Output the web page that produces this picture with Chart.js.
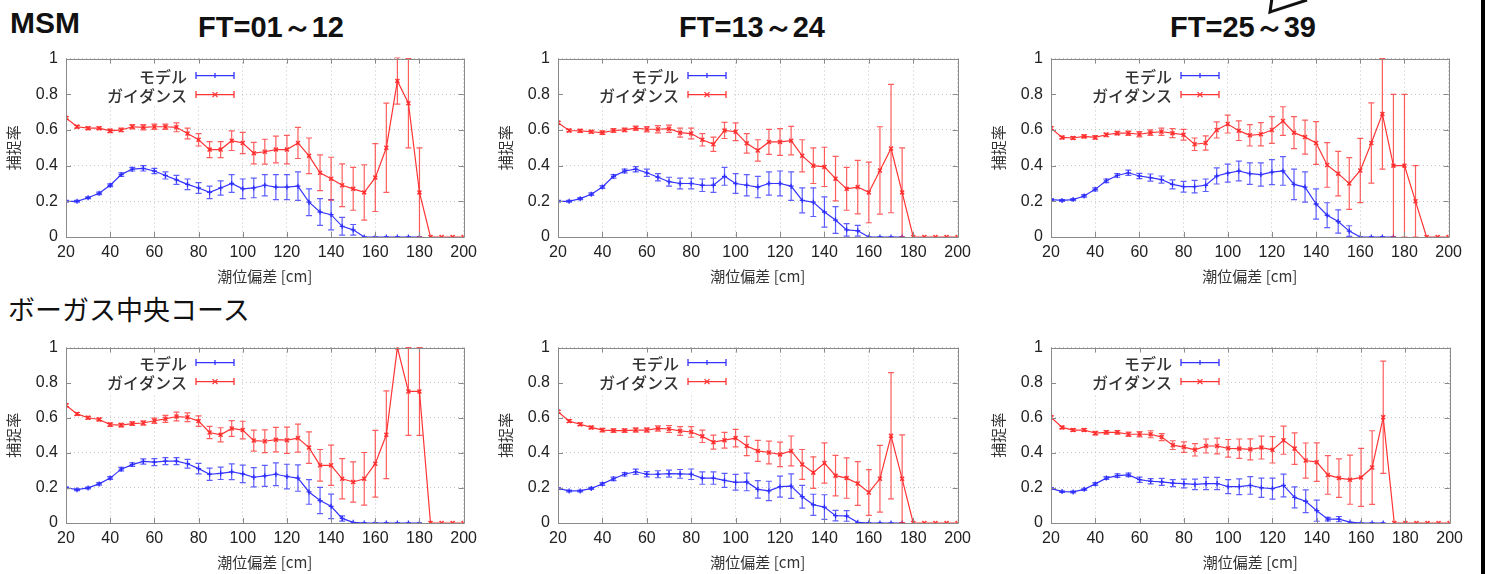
<!DOCTYPE html>
<html>
<head>
<meta charset="utf-8">
<script src="https://cdn.jsdelivr.net/npm/chart.js@4.4.1/dist/chart.umd.min.js"></script>
<style>
  body { margin: 0; width: 1487px; height: 574px; overflow: hidden; background: #fff; position: relative; }
  .head { position: absolute; color: #111; white-space: nowrap; line-height: 1; }
  .bold { font-family: "Liberation Sans", Arial, sans-serif; font-weight: bold; }
  .ft { font-size: 29px; transform: translateX(-50%); }
  .jp { font-family: "Noto Sans CJK JP", sans-serif; font-size: 27px; }
  #edge { position: absolute; left: 1481px; top: 0; width: 4px; height: 574px; background: #000; }
  #tail { position: absolute; left: 0; top: 0; }
</style>
</head>
<body>
<div class="head bold" style="left:10px;top:8px;font-size:30px">MSM</div>
<div class="head bold ft" style="left:271px;top:13px">FT=01～12</div>
<div class="head bold ft" style="left:752px;top:13px">FT=13～24</div>
<div class="head bold ft" style="left:1243px;top:13px">FT=25～39</div>
<div class="head jp" style="left:8px;top:295px">ボーガス中央コース</div>
<div id="edge"></div>
<svg id="tail" width="1487" height="20"><polyline points="1272,-2 1270,12 1307,0" fill="none" stroke="#111" stroke-width="3"/></svg>

<script>
// surge deviation [cm] at each point
var surge = [20, 25, 30, 35, 40, 45, 50, 55, 60, 65, 70, 75, 80, 85, 90, 95, 100, 105, 110, 115,
             120, 125, 130, 135, 140, 145, 150, 155, 160, 165, 170, 175, 180, 185, 190, 195, 200];
var xTicks = [20, 40, 60, 80, 100, 120, 140, 160, 180, 200];
var yTicks = [0, 0.2, 0.4, 0.6, 0.8, 1];
var seriesNames = ['モデル', 'ガイダンス'];

// MSM FT=01~12
var msm1Model = [.20,.20,.22,.245,.29,.35,.38,.385,.37,.345,.32,.295,.275,.25,.275,.30,.27,.275,.29,.28,
  .28,.285,.195,.14,.125,.06,.04,0,0,0,0,0,0,null,null,null,null];
var msm1ModelErr = [.005,.005,.005,.007,.008,.01,.01,.015,.015,.02,.025,.03,.03,.035,.04,.05,.055,.055,.06,.07,
  .07,.08,.075,.075,.085,.05,.03,0,0,0,0,0,0,0,0,0,0];
var msm1Guide = [.667,.618,.61,.61,.595,.60,.618,.615,.618,.618,.615,.58,.545,.49,.49,.54,.527,.47,.478,.49,
  .49,.527,.455,.36,.327,.29,.27,.25,.333,.50,.875,.75,.25,0,0,0,0];
var msm1GuideErr = [.008,.008,.008,.008,.01,.01,.012,.015,.015,.015,.025,.03,.035,.045,.045,.055,.06,.06,.07,.075,
  .08,.087,.1,.1,.12,.12,.12,.155,.19,.25,.13,.25,.25,0,0,0,0];

// MSM FT=13~24
var msm2Model = [.20,.20,.215,.24,.28,.34,.37,.38,.36,.335,.31,.30,.30,.29,.29,.34,.30,.29,.28,.30,
  .30,.285,.205,.195,.14,.095,.04,.035,0,0,0,0,null,null,null,null,null];
var msm2ModelErr = [.005,.005,.006,.007,.008,.01,.01,.015,.02,.02,.025,.03,.03,.035,.04,.05,.055,.06,.06,.065,
  .07,.08,.07,.08,.085,.075,.035,.03,0,0,0,0,0,0,0,0,0];
var msm2Guide = [.64,.597,.595,.59,.585,.597,.60,.61,.604,.604,.607,.585,.58,.545,.52,.597,.59,.525,.485,.533,
  .533,.54,.455,.40,.393,.327,.27,.28,.25,.373,.496,.25,0,0,0,0,0];
var msm2GuideErr = [.008,.008,.008,.008,.01,.01,.01,.012,.015,.02,.02,.025,.03,.035,.04,.045,.05,.055,.06,.07,
  .075,.08,.09,.1,.11,.125,.12,.15,.17,.245,.36,.25,0,0,0,0,0];

// MSM FT=25~39
var msm3Model = [.21,.205,.21,.23,.267,.315,.345,.36,.342,.333,.322,.295,.282,.282,.29,.342,.358,.37,.355,.35,
  .364,.37,.295,.28,.185,.122,.087,.033,0,0,0,0,null,null,null,null,null];
var msm3ModelErr = [.005,.005,.005,.007,.008,.01,.01,.015,.015,.02,.02,.025,.03,.035,.035,.045,.05,.055,.06,.065,
  .07,.08,.085,.085,.085,.07,.065,.03,0,0,0,0,0,0,0,0,0];
var msm3Guide = [.61,.558,.555,.564,.558,.573,.582,.582,.576,.585,.59,.582,.573,.52,.527,.60,.633,.596,.57,.576,
  .60,.65,.585,.56,.527,.404,.355,.30,.373,.527,.69,.40,.40,.20,0,0,0];
var msm3GuideErr = [.008,.008,.008,.008,.01,.01,.01,.012,.015,.015,.02,.025,.03,.035,.04,.045,.05,.055,.06,.065,
  .075,.08,.09,.095,.12,.125,.125,.145,.18,.225,.31,.40,.40,.20,0,0,0];

// Bogus central course FT=01~12
var bog1Model = [.201,.19,.20,.223,.256,.307,.333,.351,.347,.353,.353,.338,.31,.278,.283,.292,.28,.261,.269,.278,
  .265,.256,.177,.128,.095,.026,.004,0,0,0,0,0,0,null,null,null,null];
var bog1ModelErr = [.005,.005,.005,.007,.008,.01,.01,.015,.02,.02,.02,.025,.03,.035,.035,.045,.05,.055,.06,.065,
  .07,.075,.07,.075,.07,.015,0,0,0,0,0,0,0,0,0,0,0];
var bog1Guide = [.671,.622,.60,.59,.561,.558,.567,.57,.583,.594,.607,.603,.581,.516,.503,.539,.53,.47,.466,.475,
  .472,.484,.43,.329,.329,.252,.234,.252,.338,.503,1.0,.75,.75,0,0,0,0];
var bog1GuideErr = [.008,.008,.008,.008,.01,.01,.01,.012,.015,.02,.025,.025,.03,.035,.04,.045,.05,.06,.065,.07,
  .075,.08,.09,.09,.115,.115,.115,.15,.19,.25,0,.25,.25,0,0,0,0];

// Bogus central course FT=13~24
var bog2Model = [.197,.183,.183,.197,.223,.252,.278,.292,.278,.278,.282,.28,.278,.256,.256,.243,.232,.234,.192,.183,
  .207,.21,.15,.104,.091,.042,.04,.004,0,0,0,0,null,null,null,null,null];
var bog2ModelErr = [.005,.005,.005,.006,.008,.01,.01,.015,.015,.02,.02,.025,.03,.035,.035,.04,.045,.05,.05,.055,
  .06,.07,.065,.06,.07,.03,.03,0,0,0,0,0,0,0,0,0,0];
var bog2Guide = [.634,.581,.563,.545,.53,.527,.527,.53,.53,.539,.536,.525,.519,.494,.461,.472,.484,.439,.411,.402,
  .391,.411,.334,.287,.342,.27,.256,.225,.174,.252,.497,.252,0,0,0,0,0];
var bog2GuideErr = [.008,.008,.008,.008,.01,.01,.01,.012,.012,.015,.02,.025,.03,.035,.04,.045,.05,.055,.06,.065,
  .07,.085,.085,.09,.115,.115,.115,.125,.13,.19,.36,.25,0,0,0,0,0];

// Bogus central course FT=25~39
var bog3Model = [.197,.179,.177,.192,.223,.256,.27,.274,.247,.238,.234,.227,.225,.22,.225,.225,.207,.207,.214,.201,
  .196,.214,.146,.124,.07,.022,.022,.005,0,0,0,null,null,null,null,null,null];
var bog3ModelErr = [.005,.005,.005,.006,.008,.008,.01,.01,.015,.015,.02,.02,.025,.03,.035,.035,.04,.045,.05,.055,
  .06,.065,.06,.065,.06,.01,.015,0,0,0,0,0,0,0,0,0,0];
var bog3Guide = [.603,.545,.53,.53,.512,.517,.517,.506,.506,.506,.49,.444,.433,.417,.439,.439,.426,.424,.42,.43,
  .417,.472,.424,.356,.347,.274,.256,.247,.26,.316,.603,0,0,0,0,0,0];
var bog3GuideErr = [.008,.008,.008,.008,.01,.01,.01,.012,.015,.02,.02,.025,.03,.035,.04,.045,.05,.055,.06,.065,
  .075,.08,.09,.1,.11,.11,.11,.14,.165,.21,.32,0,0,0,0,0,0];

var BLUE = '#3434ff', RED = '#ff3434';
var BLUE_BAR = 'rgba(40,40,255,0.75)', RED_BAR = 'rgba(255,40,40,0.75)';

// plot boxes [left, top, right, bottom] in page pixels
var panels = [
  { plot: [66, 53, 469, 237],    key: [17, 36], model: msm1Model, modelErr: msm1ModelErr, guide: msm1Guide, guideErr: msm1GuideErr },
  { plot: [558, 53, 963, 237],   key: [17, 36], model: msm2Model, modelErr: msm2ModelErr, guide: msm2Guide, guideErr: msm2GuideErr },
  { plot: [1051, 53, 1454, 237], key: [17, 36], model: msm3Model, modelErr: msm3ModelErr, guide: msm3Guide, guideErr: msm3GuideErr },
  { plot: [66, 342, 469, 523],   key: [15, 34], model: bog1Model, modelErr: bog1ModelErr, guide: bog1Guide, guideErr: bog1GuideErr },
  { plot: [558, 342, 963, 523],  key: [15, 34], model: bog2Model, modelErr: bog2ModelErr, guide: bog2Guide, guideErr: bog2GuideErr },
  { plot: [1051, 342, 1455, 523],key: [15, 34], model: bog3Model, modelErr: bog3ModelErr, guide: bog3Guide, guideErr: bog3GuideErr }
];

function drawBar(ctx, x, y1, y2, cap) {
  ctx.moveTo(x, y1); ctx.lineTo(x, y2);
  ctx.moveTo(x - cap, y1); ctx.lineTo(x + cap, y1);
  ctx.moveTo(x - cap, y2); ctx.lineTo(x + cap, y2);
}

// error bars go with each dataset, clipped to the plot box
var errorBars = {
  id: 'errorBars',
  afterDatasetDraw: function(chart, args) {
    var ds = chart.data.datasets[args.index];
    var ys = chart.scales.y, a = chart.chartArea, ctx = chart.ctx;
    ctx.save();
    ctx.beginPath();
    ctx.rect(a.left, a.top - 1, a.right - a.left, a.bottom - a.top + 2);
    ctx.clip();
    ctx.strokeStyle = ds.barColor;
    ctx.lineWidth = 1.2;
    ctx.beginPath();
    args.meta.data.forEach(function(pt, i) {
      var v = ds.data[i].y, e = ds.err[i];
      if (v == null || !e) return;
      drawBar(ctx, pt.x, ys.getPixelForValue(v - e), ys.getPixelForValue(v + e), 3);
    });
    ctx.stroke();
    ctx.restore();
  }
};

function keyPlugin(rows) {
  return {
    id: 'key',
    beforeDatasetsDraw: function(chart) {
      var a = chart.chartArea, ctx = chart.ctx;
      ctx.save();
      ctx.fillStyle = '#fff';
      ctx.fillRect(a.left + 1, a.top + 1, 175, 45);
      ctx.font = '500 16px "Noto Sans CJK JP"';
      ctx.textAlign = 'right';
      ctx.textBaseline = 'middle';
      chart.data.datasets.forEach(function(ds, i) {
        var y = a.top + rows[i];
        ctx.fillStyle = '#333';
        ctx.fillText(ds.label, a.left + 121, y + 1);
        ctx.strokeStyle = ds.borderColor;
        ctx.lineWidth = 1.3;
        ctx.beginPath();
        ctx.moveTo(a.left + 130, y); ctx.lineTo(a.left + 168, y);
        ctx.moveTo(a.left + 130, y - 3.5); ctx.lineTo(a.left + 130, y + 3.5);
        ctx.moveTo(a.left + 168, y - 3.5); ctx.lineTo(a.left + 168, y + 3.5);
        var m = a.left + 149;
        if (ds.pointStyle === 'cross') {
          ctx.moveTo(m - 2.5, y); ctx.lineTo(m + 2.5, y);
          ctx.moveTo(m, y - 2.5); ctx.lineTo(m, y + 2.5);
        } else {
          ctx.moveTo(m - 2.5, y - 2.5); ctx.lineTo(m + 2.5, y + 2.5);
          ctx.moveTo(m - 2.5, y + 2.5); ctx.lineTo(m + 2.5, y - 2.5);
        }
        ctx.stroke();
      });
      ctx.restore();
    }
  };
}

// gnuplot style box with inward tics on all four sides
var frame = {
  id: 'frame',
  afterDraw: function(chart) {
    var a = chart.chartArea, ctx = chart.ctx, xs = chart.scales.x, ys = chart.scales.y;
    ctx.save();
    ctx.strokeStyle = '#8a8a8a';
    ctx.lineWidth = 1;
    ctx.beginPath();
    ctx.rect(Math.round(a.left) + 0.5, Math.round(a.top) + 0.5, Math.round(a.right - a.left), Math.round(a.bottom - a.top));
    xTicks.forEach(function(v) {
      var x = Math.round(xs.getPixelForValue(v)) + 0.5;
      ctx.moveTo(x, a.bottom); ctx.lineTo(x, a.bottom - 5);
      ctx.moveTo(x, a.top); ctx.lineTo(x, a.top + 5);
    });
    yTicks.forEach(function(v) {
      var y = Math.round(ys.getPixelForValue(v)) + 0.5;
      ctx.moveTo(a.left, y); ctx.lineTo(a.left + 5, y);
      ctx.moveTo(a.right, y); ctx.lineTo(a.right - 5, y);
    });
    ctx.stroke();
    ctx.restore();
  }
};

function points(vals) {
  return surge.map(function(x, i) { return { x: x, y: vals[i] }; });
}

panels.forEach(function(p) {
  var pl = p.plot[0], pt = p.plot[1], pr = p.plot[2], pb = p.plot[3];
  var left = pl - 66, top = pt - 12;
  var w = pr - left + 14, h = pb - top + 52;
  var cv = document.createElement('canvas');
  cv.width = w; cv.height = h;
  cv.style.cssText = 'position:absolute;left:' + left + 'px;top:' + top + 'px;width:' + w + 'px;height:' + h + 'px';
  document.body.appendChild(cv);

  new Chart(cv, {
    type: 'line',
    data: {
      datasets: [{
        label: seriesNames[0],
        data: points(p.model),
        err: p.modelErr,
        barColor: BLUE_BAR,
        borderColor: BLUE,
        backgroundColor: BLUE,
        borderWidth: 1.2,
        pointStyle: 'cross',
        pointRadius: 2.5,
        pointBorderWidth: 1.3,
        tension: 0,
        order: 1
      }, {
        label: seriesNames[1],
        data: points(p.guide),
        err: p.guideErr,
        barColor: RED_BAR,
        borderColor: RED,
        backgroundColor: RED,
        borderWidth: 1.2,
        pointStyle: 'crossRot',
        pointRadius: 2.8,
        pointBorderWidth: 1.5,
        tension: 0,
        order: 0
      }]
    },
    options: {
      responsive: false,
      animation: false,
      devicePixelRatio: 1,
      spanGaps: false,
      layout: { padding: { left: 0, top: 12, right: 14, bottom: 0 } },
      plugins: { legend: { display: false }, tooltip: { enabled: false } },
      scales: {
        x: {
          type: 'linear', min: 20, max: 200,
          afterBuildTicks: function(s) { s.ticks = xTicks.map(function(v) { return { value: v }; }); },
          afterFit: function(s) { s.height = 52; },
          grid: { color: '#c4c4c4', drawTicks: false },
          border: { display: false, dash: [1, 3] },
          ticks: { padding: 6, color: '#222', autoSkip: false, maxRotation: 0,
                   font: { family: '"Liberation Sans", Arial, sans-serif', size: 16 } },
          title: { display: true, text: '潮位偏差 [cm]', color: '#333',
                   font: { family: '"Noto Sans CJK JP", sans-serif', size: 15 }, padding: { top: 0, bottom: 4 } }
        },
        y: {
          min: 0, max: 1,
          afterBuildTicks: function(s) { s.ticks = yTicks.map(function(v) { return { value: v }; }); },
          afterFit: function(s) { s.width = 66; },
          grid: { color: '#c4c4c4', drawTicks: false },
          border: { display: false, dash: [1, 3] },
          ticks: { padding: 8, color: '#222',
                   callback: function(v) { return String(Math.round(v * 10) / 10); },
                   font: { family: '"Liberation Sans", Arial, sans-serif', size: 16 } },
          title: { display: true, text: '捕捉率', color: '#333',
                   font: { family: '"Noto Sans CJK JP", sans-serif', size: 15 }, padding: { top: 4, bottom: 0 } }
        }
      }
    },
    plugins: [errorBars, keyPlugin(p.key), frame]
  });
});
</script>
</body>
</html>
